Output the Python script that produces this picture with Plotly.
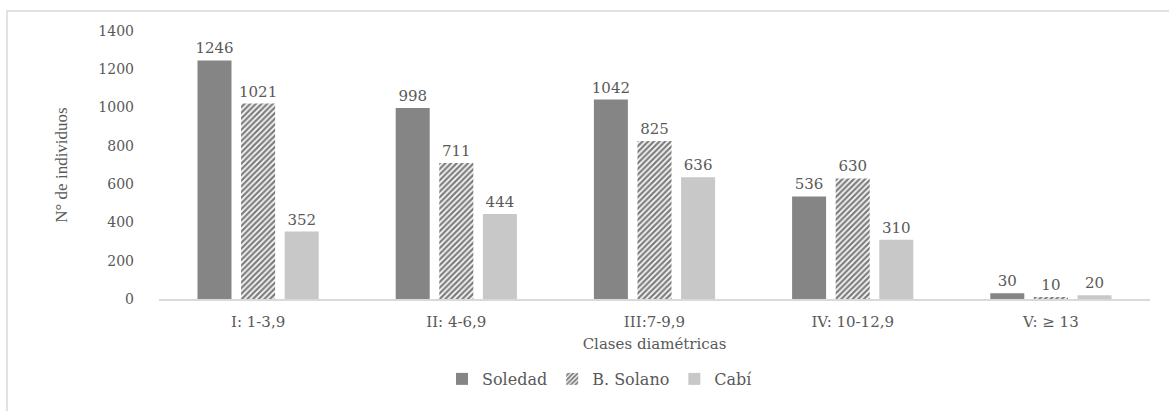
import plotly.graph_objects as go

# Diameter classes and number of individuals per site
categories = ["I: 1-3,9", "II: 4-6,9", "III:7-9,9", "IV: 10-12,9", "V: \u2265 13"]
soledad = [1246, 998, 1042, 536, 30]
b_solano = [1021, 711, 825, 630, 10]
cabi = [352, 444, 636, 310, 20]

W, H = 1169, 411
ML, MR, MT, MB = 159, 19, 31, 112
WIDE = "DejaVu Serif"
SERIF = "Liberation Serif"
TXT = "#595959"

fig = go.Figure()
fig.add_trace(go.Bar(
    name="Soledad", x=categories, y=soledad,
    marker=dict(color="#858585", line=dict(width=0)),
    text=soledad, textposition="outside",
))
fig.add_trace(go.Bar(
    name="B. Solano", x=categories, y=b_solano,
    marker=dict(color="white", line=dict(width=0),
                pattern=dict(shape="/", fgcolor="black", bgcolor="white",
                             size=4, solidity=0.6)),
    text=b_solano, textposition="outside",
))
fig.add_trace(go.Bar(
    name="Cab\u00ed", x=categories, y=cabi,
    marker=dict(color="#c8c8c8", line=dict(width=0)),
    text=cabi, textposition="outside",
))

fig.update_traces(textfont=dict(family=WIDE, size=15, color=TXT),
                  cliponaxis=False, constraintext="none")

# light frame around the chart area
pw, ph = W - ML - MR, H - MT - MB
fig.add_shape(type="rect", xref="paper", yref="paper",
              x0=(7 - ML) / pw, x1=(W + 10 - ML) / pw,
              y0=(H - MB - (H + 10)) / ph, y1=(H - MB - 11) / ph,
              line=dict(color="#d9d9d9", width=1.5), fillcolor="rgba(0,0,0,0)", layer="below")

fig.update_layout(
    width=W, height=H,
    margin=dict(l=ML, r=MR, t=MT, b=MB),
    paper_bgcolor="white", plot_bgcolor="white",
    barmode="group", bargap=0.34, bargroupgap=0.22,
    font=dict(family=WIDE, color=TXT, size=14),
    xaxis=dict(showline=True, linecolor="#d9d9d9", linewidth=1.5, ticks="",
               tickfont=dict(family=WIDE, size=15, color=TXT), ticklabelstandoff=8,
               title=dict(text="Clases diam\u00e9tricas", font=dict(family=WIDE, size=15, color=TXT),
                          standoff=9)),
    yaxis=dict(range=[0, 1400], dtick=200, showgrid=False, zeroline=False,
               tickfont=dict(family=WIDE, size=14, color=TXT), ticklabelstandoff=24,
               title=dict(text="N\u00b0 de individuos", font=dict(family=SERIF, size=17, color=TXT),
                          standoff=26)),
    legend=dict(orientation="h", x=0.445, xanchor="center", y=-0.235, yanchor="top",
                font=dict(family=WIDE, size=16, color=TXT), itemwidth=30),
)

fig.write_html("out.html")
